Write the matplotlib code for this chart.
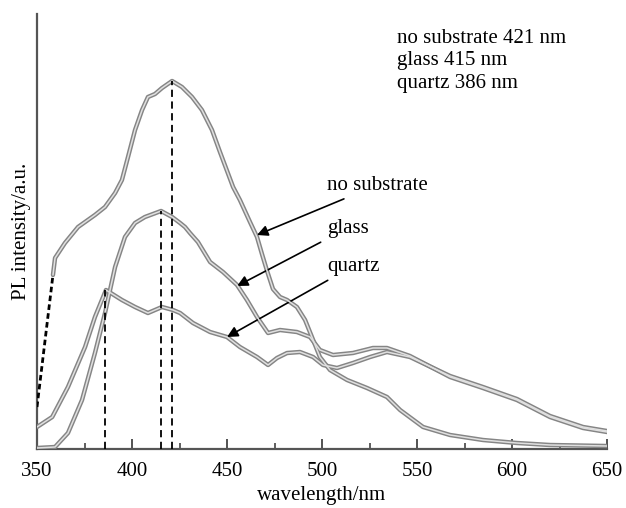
import matplotlib
matplotlib.use('Agg')
import matplotlib.pyplot as plt
from matplotlib.ticker import MultipleLocator

plt.rcParams['font.family'] = ['Liberation Serif', 'DejaVu Serif']

# wavelength (nm) / PL intensity (a.u.)
wl_nosub_start = [350, 358.4]
pl_nosub_start = [42, 174]

wl_nosub = [358.4, 359.5, 364.7, 371.6, 380.5, 385.8, 391.1, 394.7, 397.9, 401.6,
            405.3, 408.4, 412.1, 415.8, 421.1, 426.3, 431.6, 436.8, 442.1, 446.3,
            453.2, 456.8, 462.1, 465.8, 468.4, 471.1, 474.2, 477.9, 481.6, 486.8,
            491.1, 494.7, 498.9, 504.2, 513.2, 523.7, 534.2, 541.1, 553.2, 567.4,
            584.7, 602.6, 620.0, 650.0]
pl_nosub = [174, 191, 206, 222, 234, 242, 256, 269, 292, 319,
            339, 352, 355, 361, 368, 362, 352, 339, 319, 297,
            262, 249, 227, 212, 195, 178, 160, 152, 149, 142,
            129, 112, 92, 79, 69, 61, 52, 39, 22, 14,
            9, 6, 4, 3]

wl_glass = [350, 359.5, 366.3, 373.7, 380.5, 385.8, 391.1, 396.3, 401.6, 406.8,
            415.3, 421.1, 425.3, 427.9, 430.5, 434.7, 441.1, 447.9, 455.3, 460.5,
            465.8, 471.6, 477.9, 486.8, 493.7, 498.9, 505.8, 516.3, 526.8, 534.2,
            546.3, 567.4, 584.7, 602.6, 620.0, 637.4, 650.0]
pl_glass = [1, 2, 16, 49, 96, 136, 182, 212, 226, 232,
            238, 232, 226, 222, 216, 207, 187, 177, 164, 149,
            132, 116, 119, 117, 112, 99, 94, 96, 101, 101,
            93, 72, 61, 49, 32, 21, 17]

wl_quartz = [350, 358.0, 366.3, 375.3, 380.5, 386.3, 394.7, 401.6, 408.4, 415.8,
             421.6, 425.3, 432.1, 441.1, 450.0, 456.8, 465.8, 471.6, 476.3, 481.6,
             488.4, 495.3, 500.5, 507.9, 516.3, 525.3, 534.2, 546.3, 567.4, 584.7,
             602.6, 620.0, 637.4, 650.0]
pl_quartz = [22, 32, 62, 102, 132, 159, 149, 142, 136, 142,
             139, 136, 126, 117, 112, 102, 92, 84, 91, 96,
             97, 92, 84, 81, 86, 92, 97, 92, 73, 62,
             50, 33, 22, 18]

peak_wl = [386, 415, 421]
peak_pl = [159, 238, 368]

labels = ['no substrate', 'glass', 'quartz']
label_xy = [(502.6, 264), (502.6, 221), (502.6, 183)]
arrow_tip = [(465.8, 214), (455.3, 163), (450.0, 112)]

fig = plt.figure(figsize=(6.26, 5.08), dpi=100)
ax = fig.add_axes([37 / 626, 59 / 508, 570 / 626, 435 / 508])

for wl, pl in [(wl_nosub, pl_nosub), (wl_glass, pl_glass), (wl_quartz, pl_quartz)]:
    ax.plot(wl, pl, color='#858585', lw=3.2, solid_joinstyle='round', solid_capstyle='round', zorder=3)
    ax.plot(wl, pl, color='#e0e0e0', lw=1.1, solid_joinstyle='round', solid_capstyle='round', zorder=4)
ax.plot(wl_nosub_start, pl_nosub_start, color='k', lw=2, ls=(0, (2, 1.2)), zorder=4)

for w, p in zip(peak_wl, peak_pl):
    ax.plot([w, w], [0, p], color='k', lw=1.3, ls=(0, (4, 2.5)), zorder=5)

for lab, (tx, ty), (ax_, ay) in zip(labels, label_xy, arrow_tip):
    ax.annotate(lab, xy=(ax_, ay), xytext=(tx, ty), fontsize=15, va='center', ha='left',
                arrowprops=dict(arrowstyle='-|>', color='k', lw=1.2, mutation_scale=16,
                                shrinkA=3, shrinkB=0))

ax.text(539.5, 420, 'no substrate 421 nm\nglass 415 nm\nquartz 386 nm', fontsize=15,
        va='top', ha='left', linespacing=1.25)

ax.set_xlim(350, 650)
ax.set_ylim(0, 435)
ax.xaxis.set_major_locator(MultipleLocator(50))
ax.xaxis.set_minor_locator(MultipleLocator(25))
ax.tick_params(axis='x', which='major', direction='in', length=7, width=1.3, labelsize=15,
               pad=9, color='#444444')
ax.tick_params(axis='x', which='minor', direction='in', length=4, width=1.2, color='#444444')
ax.set_yticks([])
for s in ['top', 'right']:
    ax.spines[s].set_visible(False)
for s in ['left', 'bottom']:
    ax.spines[s].set_linewidth(1.6)
    ax.spines[s].set_color('#555555')
ax.set_xlabel('wavelength/nm', fontsize=15, labelpad=4)
ax.set_ylabel('PL intensity/a.u.', fontsize=15, labelpad=4)

fig.savefig('out.png', dpi=100)
